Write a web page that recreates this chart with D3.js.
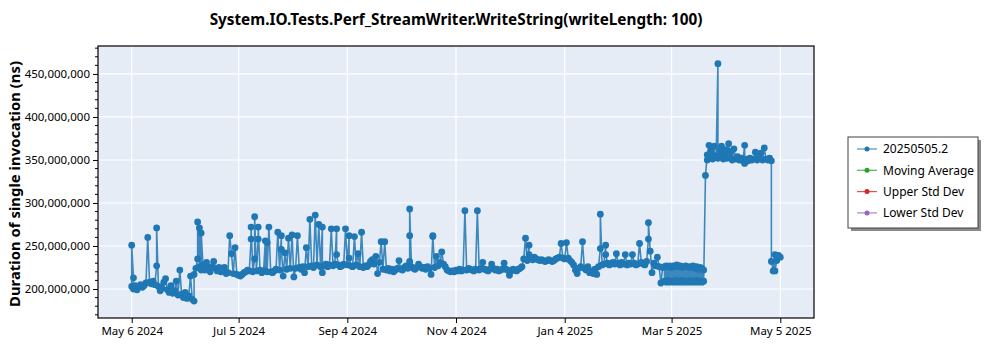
<!DOCTYPE html>
<html><head><meta charset="utf-8">
<script src="https://cdn.jsdelivr.net/npm/d3@7"></script>
<style>body{margin:0;background:#fff}svg{display:block}text{font-family:"Noto Sans","Open Sans",sans-serif;fill:#000}</style>
</head><body><svg id="c" width="1000" height="350"></svg>
<script>
const title = "System.IO.Tests.Perf_StreamWriter.WriteString(writeLength: 100)";
const yLabel = "Duration of single invocation (ns)";
const legendLabels = ["20250505.2","Moving Average","Upper Std Dev","Lower Std Dev"];
const legendColors = ["#1f77b4","#2ca02c","#d62728","#9467bd"];
const xTickDates = ["2024-05-06","2024-07-05","2024-09-04","2024-11-04","2025-01-04","2025-03-05","2025-05-05"];
const yTickValues = [200e6,250e6,300e6,350e6,400e6,450e6];
const xDomain = ["2024-04-17T02:00:00Z","2025-05-23T22:00:00Z"];
const yDomain = [166.3e6, 482.5e6];
// [run date, duration in millions of ns]
const runs = [
["2024-05-06",203],["2024-05-06",251],["2024-05-07",213],["2024-05-07",200],["2024-05-08",204],["2024-05-09",199],["2024-05-10",203],["2024-05-11",205],["2024-05-12",202],["2024-05-13",204],["2024-05-14",207],["2024-05-15",260],["2024-05-16",208],["2024-05-17",206],["2024-05-18",209],["2024-05-19",205],["2024-05-20",227],["2024-05-20",271],["2024-05-21",203],["2024-05-22",198],["2024-05-23",201],["2024-05-24",208],["2024-05-25",212],["2024-05-26",199],["2024-05-27",196],["2024-05-28",204],["2024-05-29",195],["2024-05-30",198],["2024-05-31",209],
["2024-06-01",193],["2024-06-02",222],["2024-06-03",194],["2024-06-04",190],["2024-06-05",196],["2024-06-06",189],["2024-06-07",192],["2024-06-08",215],["2024-06-09",188],["2024-06-10",186],["2024-06-10",217],["2024-06-11",224],["2024-06-12",235],["2024-06-12",278],["2024-06-13",226],["2024-06-13",271],["2024-06-14",222],["2024-06-14",265],["2024-06-15",228],["2024-06-16",222],["2024-06-17",231],["2024-06-18",224],["2024-06-19",220],["2024-06-20",226],["2024-06-21",232],["2024-06-22",224],["2024-06-23",221],["2024-06-24",225],["2024-06-25",220],["2024-06-26",222],["2024-06-27",225],["2024-06-28",218],["2024-06-29",219],["2024-06-30",262],
["2024-07-01",241],["2024-07-02",218],["2024-07-03",248],["2024-07-04",217],["2024-07-05",216],["2024-07-06",215],["2024-07-07",217],["2024-07-08",219],["2024-07-09",220],["2024-07-10",222],["2024-07-11",221],["2024-07-12",258],["2024-07-12",272],["2024-07-13",220],["2024-07-14",235],["2024-07-14",284],["2024-07-15",221],["2024-07-16",258],["2024-07-16",272],["2024-07-17",222],["2024-07-18",219],["2024-07-19",221],["2024-07-20",256],["2024-07-20",221],["2024-07-21",254],["2024-07-21",220],["2024-07-22",272],["2024-07-23",220],["2024-07-24",219],["2024-07-25",221],["2024-07-26",223],["2024-07-27",266],["2024-07-28",222],["2024-07-29",262],["2024-07-29",246],["2024-07-30",215],["2024-07-31",242],
["2024-08-01",223],["2024-08-02",259],["2024-08-03",224],["2024-08-04",263],["2024-08-05",214],["2024-08-06",224],["2024-08-07",262],["2024-08-08",225],["2024-08-09",223],["2024-08-10",226],["2024-08-11",219],["2024-08-12",248],["2024-08-13",226],["2024-08-14",281],["2024-08-15",227],["2024-08-16",225],["2024-08-17",286],["2024-08-18",228],["2024-08-19",275],["2024-08-20",226],["2024-08-21",272],["2024-08-21",219],["2024-08-22",227],["2024-08-23",229],["2024-08-24",226],["2024-08-25",228],["2024-08-26",270],["2024-08-27",227],["2024-08-28",229],["2024-08-29",270],["2024-08-29",240],["2024-08-30",228],["2024-08-31",226],
["2024-09-01",227],["2024-09-02",229],["2024-09-03",270],["2024-09-04",228],["2024-09-05",262],["2024-09-05",236],["2024-09-06",227],["2024-09-07",226],["2024-09-08",261],["2024-09-09",228],["2024-09-10",241],["2024-09-11",226],["2024-09-12",266],["2024-09-13",225],["2024-09-14",227],["2024-09-15",226],["2024-09-16",228],["2024-09-17",232],["2024-09-18",234],["2024-09-19",229],["2024-09-20",238],["2024-09-21",218],["2024-09-22",231],["2024-09-23",255],["2024-09-24",223],["2024-09-25",255],["2024-09-26",222],["2024-09-27",224],["2024-09-28",221],["2024-09-29",223],["2024-09-30",220],
["2024-10-01",222],["2024-10-02",224],["2024-10-03",233],["2024-10-04",223],["2024-10-05",222],["2024-10-06",225],["2024-10-07",227],["2024-10-08",224],["2024-10-09",232],["2024-10-09",262],["2024-10-09",293],["2024-10-10",226],["2024-10-11",224],["2024-10-12",223],["2024-10-13",225],["2024-10-14",229],["2024-10-15",226],["2024-10-16",224],["2024-10-17",225],["2024-10-18",223],["2024-10-19",226],["2024-10-20",224],["2024-10-21",217],["2024-10-22",262],["2024-10-22",261],["2024-10-23",225],["2024-10-24",238],["2024-10-25",227],["2024-10-26",231],["2024-10-27",243],["2024-10-28",229],["2024-10-29",226],["2024-10-30",222],["2024-10-31",221],
["2024-11-01",220],["2024-11-02",221],["2024-11-03",220],["2024-11-04",222],["2024-11-05",221],["2024-11-06",223],["2024-11-07",221],["2024-11-08",222],["2024-11-09",291],["2024-11-10",222],["2024-11-11",224],["2024-11-12",223],["2024-11-13",222],["2024-11-14",221],["2024-11-15",223],["2024-11-16",291],["2024-11-17",222],["2024-11-18",224],["2024-11-19",231],["2024-11-20",223],["2024-11-21",222],["2024-11-22",221],["2024-11-23",223],["2024-11-24",229],["2024-11-25",224],["2024-11-26",222],["2024-11-27",223],["2024-11-28",221],["2024-11-29",222],["2024-11-30",223],
["2024-12-01",230],["2024-12-02",223],["2024-12-03",222],["2024-12-04",216],["2024-12-05",221],["2024-12-06",223],["2024-12-07",222],["2024-12-08",221],["2024-12-09",223],["2024-12-10",224],["2024-12-11",226],["2024-12-12",235],["2024-12-13",259],["2024-12-14",233],["2024-12-15",251],["2024-12-15",240],["2024-12-16",236],["2024-12-17",234],["2024-12-18",237],["2024-12-19",235],["2024-12-20",234],["2024-12-21",233],["2024-12-22",234],["2024-12-23",233],["2024-12-24",232],["2024-12-25",233],["2024-12-26",234],["2024-12-27",233],["2024-12-28",232],["2024-12-29",233],["2024-12-30",235],["2024-12-31",236],
["2025-01-01",237],["2025-01-02",253],["2025-01-03",236],["2025-01-04",235],["2025-01-05",254],["2025-01-06",236],["2025-01-07",233],["2025-01-08",231],["2025-01-09",228],["2025-01-10",222],["2025-01-11",218],["2025-01-12",224],["2025-01-13",226],["2025-01-14",255],["2025-01-15",224],["2025-01-16",222],["2025-01-17",226],["2025-01-18",219],["2025-01-19",221],["2025-01-20",218],["2025-01-21",223],["2025-01-22",217],["2025-01-23",226],["2025-01-24",247],["2025-01-24",287],["2025-01-25",228],["2025-01-26",229],["2025-01-27",251],["2025-01-27",240],["2025-01-28",230],["2025-01-29",228],["2025-01-30",229],["2025-01-31",231],
["2025-02-01",229],["2025-02-02",241],["2025-02-03",230],["2025-02-04",228],["2025-02-05",231],["2025-02-06",229],["2025-02-07",240],["2025-02-08",228],["2025-02-09",230],["2025-02-10",229],["2025-02-11",240],["2025-02-12",230],["2025-02-13",228],["2025-02-14",229],["2025-02-15",253],["2025-02-16",231],["2025-02-17",229],["2025-02-18",228],["2025-02-19",232],["2025-02-20",258],["2025-02-20",277],["2025-02-21",244],["2025-02-22",219],["2025-02-23",230],["2025-02-24",227],["2025-02-25",237],["2025-02-26",226],["2025-02-27",207],["2025-02-28",225],
["2025-03-01",226],["2025-03-01",209],["2025-03-02",227],["2025-03-02",208],["2025-03-03",226],["2025-03-03",210],["2025-03-04",227],["2025-03-04",208],["2025-03-05",225],["2025-03-05",209],["2025-03-06",227],["2025-03-06",208],["2025-03-07",226],["2025-03-07",210],["2025-03-08",228],["2025-03-08",208],["2025-03-09",226],["2025-03-09",209],["2025-03-10",227],["2025-03-10",208],["2025-03-11",225],["2025-03-11",210],["2025-03-12",226],["2025-03-12",208],["2025-03-13",227],["2025-03-13",209],["2025-03-14",226],["2025-03-14",208],["2025-03-15",225],["2025-03-15",210],["2025-03-16",226],["2025-03-16",208],["2025-03-17",227],["2025-03-17",209],["2025-03-18",224],["2025-03-18",208],["2025-03-19",226],["2025-03-19",210],["2025-03-20",223],["2025-03-20",208],["2025-03-21",225],["2025-03-21",209],["2025-03-22",224],["2025-03-22",208],["2025-03-23",222],["2025-03-23",209],["2025-03-24",332],["2025-03-25",356],["2025-03-25",350],["2025-03-26",367],["2025-03-26",352],["2025-03-27",358],["2025-03-27",361],["2025-03-28",351],["2025-03-29",366],["2025-03-29",355],["2025-03-30",353],["2025-03-31",462],["2025-03-31",352],
["2025-04-01",355],["2025-04-01",360],["2025-04-02",366],["2025-04-03",351],["2025-04-04",357],["2025-04-04",362],["2025-04-05",352],["2025-04-06",369],["2025-04-07",353],["2025-04-07",360],["2025-04-08",350],["2025-04-09",363],["2025-04-10",351],["2025-04-11",354],["2025-04-12",350],["2025-04-13",352],["2025-04-14",349],["2025-04-15",367],["2025-04-15",346],["2025-04-16",351],["2025-04-17",349],["2025-04-18",352],["2025-04-19",350],["2025-04-20",351],["2025-04-21",359],["2025-04-22",350],["2025-04-23",352],["2025-04-24",358],["2025-04-25",350],["2025-04-26",364],["2025-04-27",351],["2025-04-28",350],["2025-04-29",352],["2025-04-30",349],["2025-04-30",232],
["2025-05-01",221],["2025-05-02",240],["2025-05-02",221],["2025-05-03",233],["2025-05-03",238],["2025-05-04",239],["2025-05-05",237]
];

const svg = d3.select("#c");
const L = 98, R = 814, T = 46, B = 318;
const parse = d3.utcParse("%Y-%m-%d");
const x = d3.scaleUtc().domain(xDomain.map(s => new Date(s))).range([L, R]);
const y = d3.scaleLinear().domain(yDomain).range([B, T]);
const data = runs.map(d => ({date: parse(d[0]), v: d[1] * 1e6}));
const xTicks = xTickDates.map(parse);

function fit(sel, target) {
  const w = sel.node().getComputedTextLength();
  const fs = parseFloat(sel.attr("font-size"));
  sel.attr("font-size", (fs * target / w).toFixed(2));
}

svg.append("rect").attr("x", L).attr("y", T).attr("width", R - L).attr("height", B - T).attr("fill", "#e5ecf6");

// grid
svg.append("g").selectAll("line").data(yTickValues).join("line")
  .attr("x1", L).attr("x2", R).attr("y1", d => y(d)).attr("y2", d => y(d))
  .attr("stroke", "#fff").attr("stroke-width", 1.2);
svg.append("g").selectAll("line").data(xTicks).join("line")
  .attr("y1", T).attr("y2", B).attr("x1", d => x(d)).attr("x2", d => x(d))
  .attr("stroke", "#fff").attr("stroke-width", 1.2);

// series
const g = svg.append("g");
g.append("path").datum(data)
  .attr("d", d3.line().x(d => x(d.date)).y(d => y(d.v)))
  .attr("fill", "none").attr("stroke", "#1f77b4").attr("stroke-width", 1.6).attr("stroke-opacity", 0.85);
g.selectAll("circle").data(data).join("circle")
  .attr("cx", d => x(d.date)).attr("cy", d => y(d.v)).attr("r", 3.4)
  .attr("fill", "#1f77b4");

// axes
const yAxis = d3.axisLeft(y).tickValues(yTickValues).tickFormat(d3.format(",")).tickSize(5).tickPadding(3);
const ya = svg.append("g").attr("transform", `translate(${L},0)`).call(yAxis);
const minor = d3.range(170e6, 481e6, 10e6).filter(v => !yTickValues.includes(v));
svg.append("g").selectAll("line").data(minor).join("line")
  .attr("x1", L - 3).attr("x2", L).attr("y1", d => y(d)).attr("y2", d => y(d)).attr("stroke", "#000");
const xAxis = d3.axisBottom(x).tickValues(xTicks).tickFormat(d3.utcFormat("%b %-d %Y")).tickSize(5).tickPadding(4);
const xa = svg.append("g").attr("transform", `translate(0,${B})`).call(xAxis);
[ya, xa].forEach(a => {
  a.select(".domain").remove();
  a.selectAll("text").attr("font-size", 11.5).attr("font-family", "Noto Sans, Open Sans, sans-serif").attr("fill", "#000");
  a.selectAll("line").attr("stroke", "#000");
});
svg.append("rect").attr("x", L).attr("y", T).attr("width", R - L).attr("height", B - T)
  .attr("fill", "none").attr("stroke", "#000").attr("stroke-width", 1.2);

// titles
const tt = svg.append("text").attr("x", (L + R) / 2).attr("y", 25).attr("text-anchor", "middle")
  .attr("font-weight", "bold").attr("font-size", 15).text(title);
fit(tt, 493);
const yl = svg.append("text").attr("transform", "translate(20,184) rotate(-90)").attr("text-anchor", "middle")
  .attr("font-weight", "bold").attr("font-size", 16).text(yLabel);
fit(yl, 246);

// legend
const lg = svg.append("g");
lg.append("rect").attr("x", 851).attr("y", 140).attr("width", 130).attr("height", 91).attr("fill", "#8a8a8a");
lg.append("rect").attr("x", 848).attr("y", 137).attr("width", 130).attr("height", 91).attr("fill", "#fff").attr("stroke", "#404040").attr("stroke-width", 1);
const items = lg.selectAll("g.it").data(legendLabels).join("g").attr("class", "it")
  .attr("transform", (d, i) => `translate(0,${149 + i * 21.3})`);
items.append("line").attr("x1", 857).attr("x2", 877).attr("stroke", (d, i) => legendColors[i]).attr("stroke-width", 1.2).attr("stroke-opacity", 0.8);
items.append("circle").attr("cx", 867).attr("r", 2.5).attr("fill", (d, i) => legendColors[i]);
items.append("text").attr("x", 883).attr("dy", "0.35em").attr("font-size", 12).text(d => d);
</script></body></html>
